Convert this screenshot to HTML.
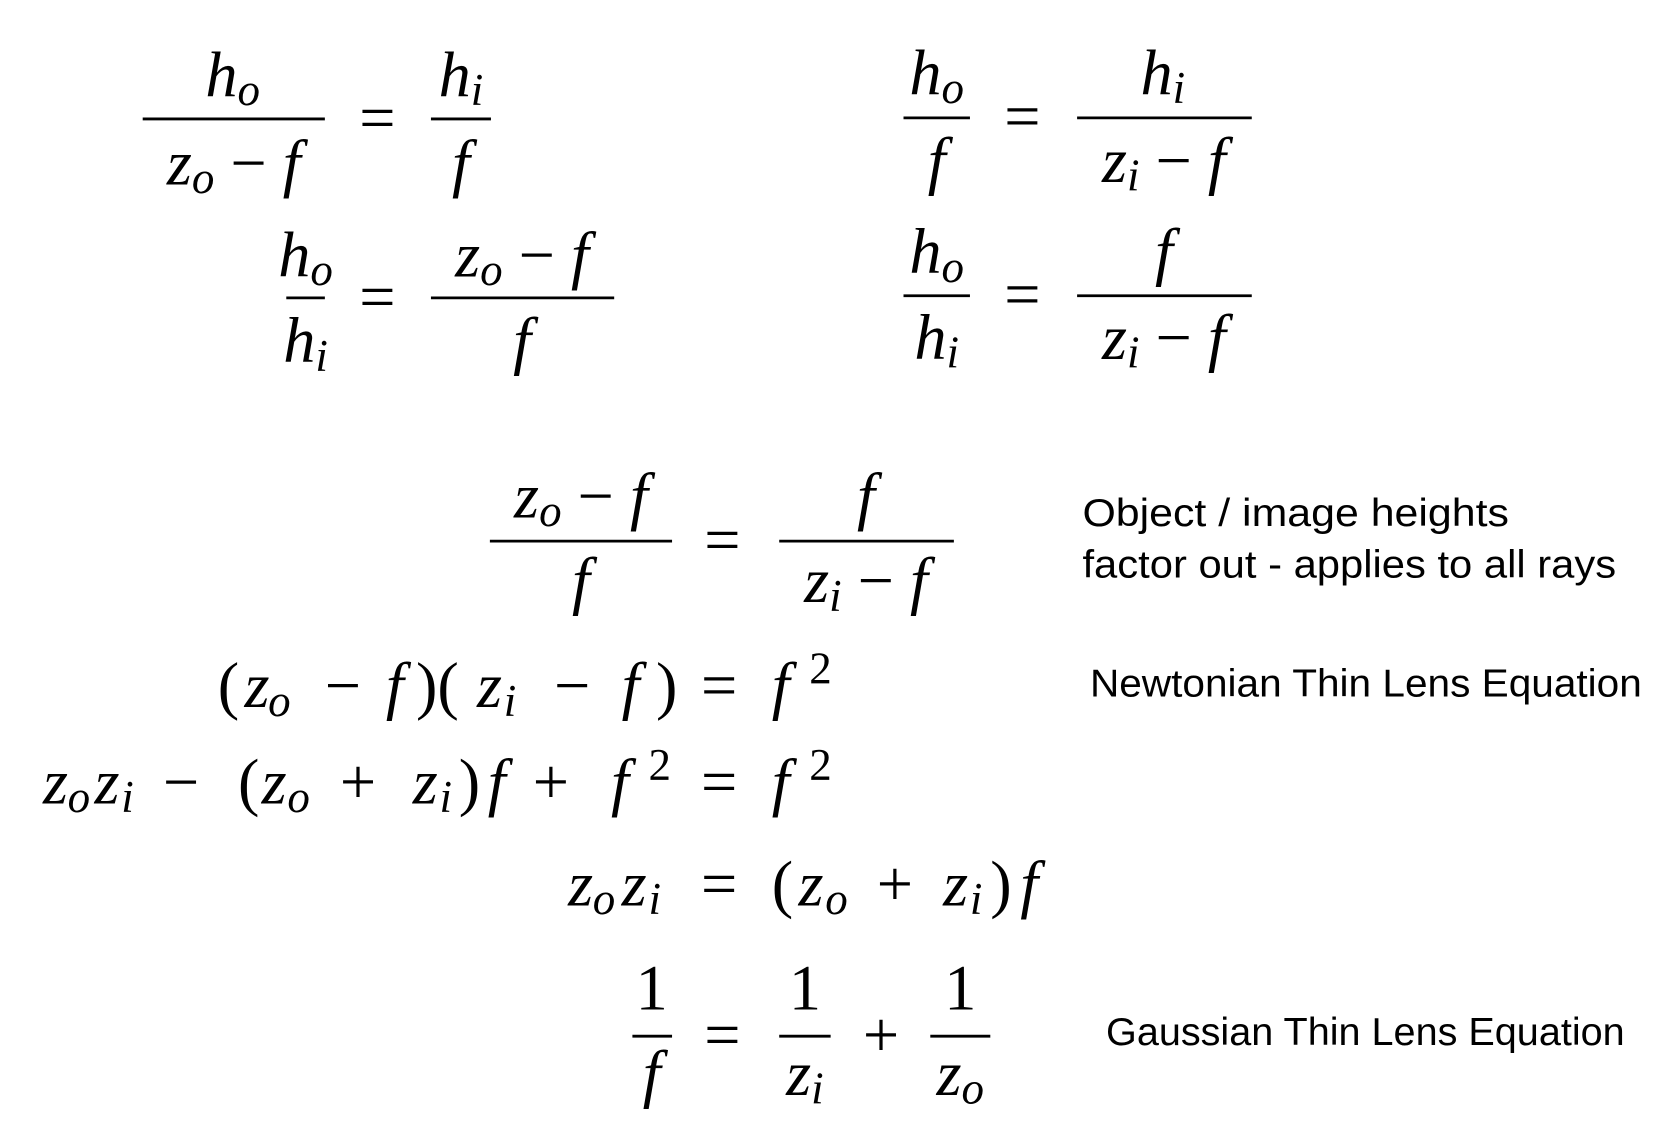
<!DOCTYPE html>
<html><head><meta charset="utf-8"><style>
html,body{margin:0;padding:0;background:#fff;}
svg{display:block}
.m{font-family:"Liberation Serif",serif;font-style:italic;font-size:60px;fill:#000}
.u{font-style:normal}
.s{font-size:42px}
.l{font-family:"Liberation Sans","DejaVu Sans",sans-serif;font-size:36px;fill:#000}
line{stroke:#000;stroke-width:2.6}
</style></head><body>
<svg width="1672" height="1138" viewBox="0 0 1560 1062" xmlns="http://www.w3.org/2000/svg">
<!-- Eq1 -->
<text class="m" x="217" y="90" text-anchor="middle">h<tspan class="s" dy="8">o</tspan></text>
<line x1="133" y1="111" x2="303" y2="111"/>
<text class="m" x="218" y="172" text-anchor="middle">z<tspan class="s" dy="8">o</tspan><tspan dy="-8" class="u"> − </tspan>f</text>
<text class="m u" x="352" y="130" text-anchor="middle">=</text>
<line x1="402" y1="111" x2="458" y2="111"/>
<text class="m" x="430" y="90" text-anchor="middle">h<tspan class="s" dy="8">i</tspan></text>
<text class="m" x="430" y="172" text-anchor="middle">f</text>
<!-- Eq2 -->
<text class="m" x="285" y="258" text-anchor="middle">h<tspan class="s" dy="8">o</tspan></text>
<line x1="267" y1="278" x2="303" y2="278"/>
<text class="m" x="285" y="338" text-anchor="middle">h<tspan class="s" dy="8">i</tspan></text>
<text class="m u" x="352" y="297" text-anchor="middle">=</text>
<line x1="402" y1="278" x2="573" y2="278"/>
<text class="m" x="487" y="258" text-anchor="middle">z<tspan class="s" dy="8">o</tspan><tspan dy="-8" class="u"> − </tspan>f</text>
<text class="m" x="487" y="338" text-anchor="middle">f</text>
<!-- Eq3 -->
<text class="m" x="874" y="88" text-anchor="middle">h<tspan class="s" dy="8">o</tspan></text>
<line x1="843" y1="110" x2="905" y2="110"/>
<text class="m" x="874" y="170" text-anchor="middle">f</text>
<text class="m u" x="954" y="129" text-anchor="middle">=</text>
<line x1="1005" y1="110" x2="1168" y2="110"/>
<text class="m" x="1085" y="88" text-anchor="middle">h<tspan class="s" dy="8">i</tspan></text>
<text class="m" x="1086" y="170" text-anchor="middle">z<tspan class="s" dy="8">i</tspan><tspan dy="-8" class="u"> − </tspan>f</text>
<!-- Eq4 -->
<text class="m" x="874" y="255" text-anchor="middle">h<tspan class="s" dy="8">o</tspan></text>
<line x1="843" y1="276" x2="905" y2="276"/>
<text class="m" x="874" y="335" text-anchor="middle">h<tspan class="s" dy="8">i</tspan></text>
<text class="m u" x="954" y="295" text-anchor="middle">=</text>
<line x1="1005" y1="276" x2="1168" y2="276"/>
<text class="m" x="1086" y="255" text-anchor="middle">f</text>
<text class="m" x="1086" y="335" text-anchor="middle">z<tspan class="s" dy="8">i</tspan><tspan dy="-8" class="u"> − </tspan>f</text>
<!-- Eq5 -->
<text class="m" x="542" y="483" text-anchor="middle">z<tspan class="s" dy="8">o</tspan><tspan dy="-8" class="u"> − </tspan>f</text>
<line x1="457" y1="505" x2="627" y2="505"/>
<text class="m" x="542" y="562" text-anchor="middle">f</text>
<text class="m u" x="674" y="524" text-anchor="middle">=</text>
<line x1="727" y1="505" x2="890" y2="505"/>
<text class="m" x="808" y="483" text-anchor="middle">f</text>
<text class="m" x="808" y="562" text-anchor="middle">z<tspan class="s" dy="8">i</tspan><tspan dy="-8" class="u"> − </tspan>f</text>
<!-- Eq6 -->
<text class="m"><tspan class="u" x="203" y="660">(</tspan><tspan x="228" y="660">z</tspan><tspan class="s" x="250" y="668">o</tspan><tspan class="u" x="303" y="660">−</tspan><tspan x="360" y="660">f</tspan><tspan class="u" x="388" y="660">)(</tspan><tspan x="445" y="660">z</tspan><tspan class="s" x="470" y="668">i</tspan><tspan class="u" x="517" y="660">−</tspan><tspan x="580" y="660">f</tspan><tspan class="u" x="612" y="660">)</tspan><tspan class="u" x="654" y="660">=</tspan><tspan x="720" y="660">f</tspan><tspan class="s u" x="755" y="638">2</tspan></text>
<!-- Eq7 -->
<text class="m"><tspan x="40" y="750">z</tspan><tspan class="s" x="63" y="758">o</tspan><tspan x="88" y="750">z</tspan><tspan class="s" x="113" y="758">i</tspan><tspan class="u" x="152" y="750">−</tspan><tspan class="u" x="222" y="750">(</tspan><tspan x="244" y="750">z</tspan><tspan class="s" x="268" y="758">o</tspan><tspan class="u" x="317" y="750">+</tspan><tspan x="385" y="750">z</tspan><tspan class="s" x="410" y="758">i</tspan><tspan class="u" x="428" y="750">)</tspan><tspan x="455" y="750">f</tspan><tspan class="u" x="497" y="750">+</tspan><tspan x="570" y="750">f</tspan><tspan class="s u" x="605" y="728">2</tspan><tspan class="u" x="654" y="750">=</tspan><tspan x="720" y="750">f</tspan><tspan class="s u" x="755" y="728">2</tspan></text>
<!-- Eq8 -->
<text class="m"><tspan x="530" y="845">z</tspan><tspan class="s" x="553" y="853">o</tspan><tspan x="580" y="845">z</tspan><tspan class="s" x="605" y="853">i</tspan><tspan class="u" x="654" y="845">=</tspan><tspan class="u" x="720" y="845">(</tspan><tspan x="745" y="845">z</tspan><tspan class="s" x="770" y="853">o</tspan><tspan class="u" x="818" y="845">+</tspan><tspan x="880" y="845">z</tspan><tspan class="s" x="905" y="853">i</tspan><tspan class="u" x="924" y="845">)</tspan><tspan x="952" y="845">f</tspan></text>
<!-- Eq9 -->
<text class="m u" x="608" y="942" text-anchor="middle">1</text>
<line x1="590" y1="967" x2="627" y2="967"/>
<text class="m" x="608" y="1022" text-anchor="middle">f</text>
<text class="m u" x="674" y="986" text-anchor="middle">=</text>
<text class="m u" x="751" y="942" text-anchor="middle">1</text>
<line x1="727" y1="967" x2="775" y2="967"/>
<text class="m" x="751" y="1022" text-anchor="middle">z<tspan class="s" dy="8">i</tspan></text>
<text class="m u" x="822" y="986" text-anchor="middle">+</text>
<text class="m u" x="896" y="942" text-anchor="middle">1</text>
<line x1="868" y1="967" x2="924" y2="967"/>
<text class="m" x="896" y="1022" text-anchor="middle">z<tspan class="s" dy="8">o</tspan></text>
<!-- Labels -->
<text class="l" x="1010" y="491" textLength="398" lengthAdjust="spacingAndGlyphs">Object / image heights</text>
<text class="l" x="1010" y="539" textLength="498" lengthAdjust="spacingAndGlyphs">factor out - applies to all rays</text>
<text class="l" x="1017" y="650" textLength="515" lengthAdjust="spacingAndGlyphs">Newtonian Thin Lens Equation</text>
<text class="l" x="1032" y="975" textLength="484" lengthAdjust="spacingAndGlyphs">Gaussian Thin Lens Equation</text>
</svg>
</body></html>
